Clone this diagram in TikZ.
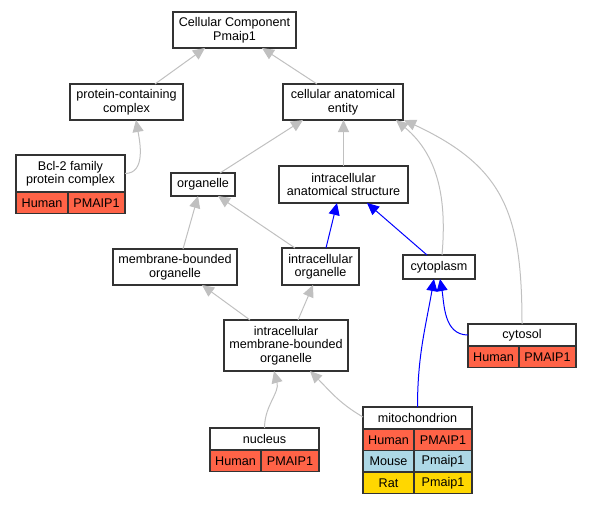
\documentclass[tikz,border=0pt]{standalone}
\usepackage{fontspec}
\setmainfont{Liberation Sans}
\usetikzlibrary{calc, positioning, arrows.meta}
\definecolor{human}{HTML}{FF6347}
\definecolor{mouse}{HTML}{ADD8E6}
\definecolor{rat}{HTML}{FFD700}
\definecolor{silver}{HTML}{C0C0C0}

\begin{document}
\begin{tikzpicture}[x=1pt, y=1pt, >={Triangle[length=12pt, width=11pt]},
  term/.style={draw=black!80, line width=1.2pt, fill=white, inner sep=1pt, outer sep=0pt,
    align=center, font=\fontsize{12.6}{13.5}\selectfont},
  cell/.style={term, minimum height=21.5pt},
  grayedge/.style={->, draw=silver, line width=1pt},
  blueedge/.style={->, draw=blue, line width=1pt}]
  \useasboundingbox (0,0) rectangle (591,-504);

  \node (cc) at (234.5,-30) [term, minimum width=123pt, minimum height=36pt] {Cellular Component\\Pmaip1};
  \node (pcc) at (126.5,-102) [term, minimum width=113pt, minimum height=36pt] {protein-containing\\complex};
  \node (cae) at (343,-102) [term, minimum width=120pt, minimum height=36pt] {cellular anatomical\\entity};
  \node (bcl) at (70.5,-173.5) [term, minimum width=109pt, minimum height=37pt] {Bcl-2 family\\protein complex};
  \node (bclh) [cell, fill=human, minimum width=52pt, below right=0pt of bcl.south west] {Human};
  \node (bclg) [cell, fill=human, minimum width=57pt, right=0pt of bclh] {PMAIP1};
  \node (org) at (203,-184.5) [term, minimum width=64pt, minimum height=23pt] {organelle};
  \node (ias) at (343.5,-184.5) [term, minimum width=129pt, minimum height=37pt] {intracellular\\anatomical structure};
  \node (mbo) at (175,-267) [term, minimum width=124pt, minimum height=36pt] {membrane-bounded\\organelle};
  \node (io) at (320.5,-266.5) [term, minimum width=77pt, minimum height=37pt] {intracellular\\organelle};
  \node (cyto) at (439,-267) [term, minimum width=72pt, minimum height=24pt] {cytoplasm};
  \node (imbo) at (286,-345.5) [term, minimum width=124pt, minimum height=51pt] {intracellular\\membrane-bounded\\organelle};
  \node (cytosol) at (522,-335) [term, minimum width=108pt, minimum height=22pt] {cytosol};
  \node (cytosolh) [cell, fill=human, minimum width=51pt, below right=0pt of cytosol.south west] {Human};
  \node (cytosolg) [cell, fill=human, minimum width=57pt, right=0pt of cytosolh] {PMAIP1};
  \node (nuc) at (264.5,-439) [term, minimum width=109pt, minimum height=22pt] {nucleus};
  \node (nuch) [cell, fill=human, minimum width=51pt, below right=0pt of nuc.south west] {Human};
  \node (nucg) [cell, fill=human, minimum width=58pt, right=0pt of nuch] {PMAIP1};
  \node (mito) at (417.5,-418) [term, minimum width=109pt, minimum height=22pt] {mitochondrion};
  \node (mitoh) [cell, fill=human, minimum width=51pt, below right=0pt of mito.south west] {Human};
  \node (mitohg) [cell, fill=human, minimum width=58pt, right=0pt of mitoh] {PMAIP1};
  \node (mitom) [cell, fill=mouse, minimum width=51pt, below right=0pt of mitoh.south west] {Mouse};
  \node (mitomg) [cell, fill=mouse, minimum width=58pt, right=0pt of mitom] {Pmaip1};
  \node (mitor) [cell, fill=rat, minimum width=51pt, below right=0pt of mitom.south west] {Rat};
  \node (mitorg) [cell, fill=rat, minimum width=58pt, right=0pt of mitor] {Pmaip1};

  \draw [grayedge] ([xshift=85pt]pcc.north west) -- ([xshift=32pt]cc.south west);
  \draw [grayedge] ([xshift=34pt]cae.north west) -- ([xshift=89pt]cc.south west);
  \draw [grayedge] (bcl.east) to [out=0, in=-80] ([xshift=66pt]pcc.south west);
  \draw [grayedge] ([xshift=49pt]org.north west) -- ([xshift=20pt]cae.south west);
  \draw [grayedge] (ias.north) -- (ias.north |- cae.south);
  \draw [grayedge] ([xshift=39pt]cyto.north west) to [out=85, in=-40] ([xshift=-7pt]cae.south east);
  \draw [grayedge] (cytosol.north) to [out=90, in=-25, looseness=1.2] ([xshift=1pt]cae.south east);
  \draw [grayedge] ([xshift=70pt]mbo.north west) -- ([xshift=27pt]org.south west);
  \draw [grayedge] ([xshift=13pt]io.north west) -- ([xshift=47pt]org.south west);
  \draw [blueedge] ([xshift=44pt]io.north west) -- ([xshift=58pt]ias.south west);
  \draw [blueedge] ([xshift=24pt]cyto.north west) -- ([xshift=88pt]ias.south west);
  \draw [grayedge] ([xshift=26pt]imbo.north west) -- ([xshift=89pt]mbo.south west);
  \draw [grayedge] ([xshift=74pt]imbo.north west) -- ([xshift=31pt]io.south west);
  \draw [grayedge] (nuc.north) to [out=90, in=-75] ([xshift=50pt]imbo.south west);
  \draw [grayedge] ([yshift=-10pt]mito.north west) to [out=150, in=-45] ([xshift=86pt]imbo.south west);
  \draw [blueedge] (mito.north) to [out=90, in=-100] ([xshift=31pt]cyto.south west);
  \draw [blueedge] (cytosol.west) to [out=180, in=-80] ([xshift=37pt]cyto.south west);
\end{tikzpicture}
\end{document}
